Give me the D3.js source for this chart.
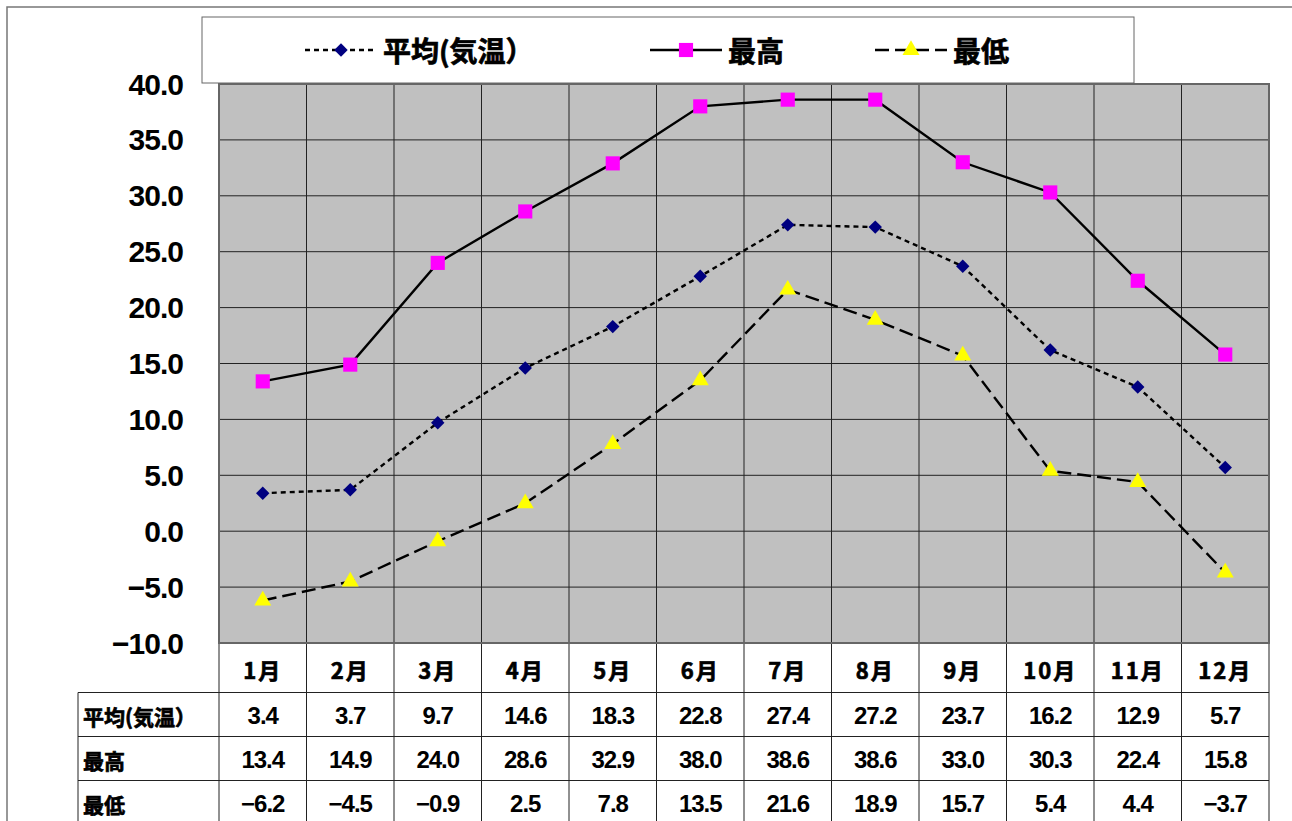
<!DOCTYPE html>
<html>
<head>
<meta charset="utf-8">
<script src="https://cdn.jsdelivr.net/npm/d3@7"></script>
<style>
  body { margin: 0; background: #fff; }
  svg text { font-weight: bold; fill: #000; }
  svg text.cjk { stroke: #000; stroke-width: 0.7px; }
</style>
</head>
<body>
<div id="chart"></div>
<script>
// data
var months = ["1月", "2月", "3月", "4月", "5月", "6月", "7月", "8月", "9月", "10月", "11月", "12月"];
var seriesNames = ["平均(気温）", "最高", "最低"];
var avgTemp = [3.4, 3.7, 9.7, 14.6, 18.3, 22.8, 27.4, 27.2, 23.7, 16.2, 12.9, 5.7];
var maxTemp = [13.4, 14.9, 24.0, 28.6, 32.9, 38.0, 38.6, 38.6, 33.0, 30.3, 22.4, 15.8];
var minTemp = [-6.2, -4.5, -0.9, 2.5, 7.8, 13.5, 21.6, 18.9, 15.7, 5.4, 4.4, -3.7];
var yTicks = [40, 35, 30, 25, 20, 15, 10, 5, 0, -5, -10];

var svgWidth = 1292;
var svgHeight = 821;

var plot = { left: 219, top: 84, right: 1269, bottom: 643 };
var rowTop = 643, headH = 49.5, rowH = 44;
var labelLeft = 78;

var svg = d3.select("#chart")
  .append("svg")
  .attr("width", svgWidth)
  .attr("height", svgHeight);

// outer chart frame (only top/left visible)
svg.append("path")
  .attr("d", "M7,821 L7,7 L1292,7")
  .attr("fill", "none")
  .attr("stroke", "#777")
  .attr("stroke-width", 1.5);

var xScale = d3.scaleBand()
  .domain(months)
  .range([plot.left, plot.right]);

var yScale = d3.scaleLinear()
  .domain([-10, 40])
  .range([plot.bottom, plot.top]);

// plot background
svg.append("rect")
  .attr("x", plot.left)
  .attr("y", plot.top)
  .attr("width", plot.right - plot.left)
  .attr("height", plot.bottom - plot.top)
  .attr("fill", "#c0c0c0");

// horizontal grid
svg.append("g")
  .selectAll("line")
  .data(yTicks)
  .enter()
  .append("line")
  .attr("x1", plot.left)
  .attr("x2", plot.right)
  .attr("y1", d => yScale(d))
  .attr("y2", d => yScale(d))
  .attr("stroke", "#222")
  .attr("stroke-width", 1);

// vertical lines: through plot and table
var tableBottom = rowTop + headH + rowH * 3;
var colEdges = months.map(m => xScale(m)).concat([plot.right]);
svg.append("g")
  .selectAll("line")
  .data(colEdges)
  .enter()
  .append("line")
  .attr("x1", d => d)
  .attr("x2", d => d)
  .attr("y1", plot.top)
  .attr("y2", tableBottom)
  .attr("stroke", "#222")
  .attr("stroke-width", 1);

// plot border
svg.append("rect")
  .attr("x", plot.left)
  .attr("y", plot.top)
  .attr("width", plot.right - plot.left)
  .attr("height", plot.bottom - plot.top)
  .attr("fill", "none")
  .attr("stroke", "#666")
  .attr("stroke-width", 2);

// y axis labels
var fmt = d3.format(".1f");
svg.append("g")
  .selectAll("text")
  .data(yTicks)
  .enter()
  .append("text")
  .attr("x", 183)
  .attr("y", d => yScale(d))
  .attr("text-anchor", "end")
  .attr("dominant-baseline", "central")
  .attr("font-family", "Liberation Sans, Arial, sans-serif")
  .attr("font-size", "30px")
  .attr("letter-spacing", "-1px")
  .text(d => fmt(d));

// series
var series = [
  { name: seriesNames[0], values: avgTemp, dash: "5,4", marker: "diamond", color: "#000080" },
  { name: seriesNames[1], values: maxTemp, dash: null, marker: "square", color: "#ff00ff" },
  { name: seriesNames[2], values: minTemp, dash: "14,6", marker: "triangle", color: "#ffff00" }
];

var symbolMap = {
  diamond: d3.symbol().type(d3.symbolDiamond2).size(115),
  square: d3.symbol().type(d3.symbolSquare).size(200),
  triangle: d3.symbol().type(d3.symbolTriangle).size(125)
};

var cx = m => xScale(m) + xScale.bandwidth() / 2;

var line = d3.line()
  .x((d, i) => cx(months[i]))
  .y(d => yScale(d));

series.forEach(function(s) {
  svg.append("path")
    .datum(s.values)
    .attr("d", line)
    .attr("fill", "none")
    .attr("stroke", "#000")
    .attr("stroke-width", 2.4)
    .attr("stroke-dasharray", s.dash);

  svg.append("g")
    .selectAll("path")
    .data(s.values)
    .enter()
    .append("path")
    .attr("d", symbolMap[s.marker])
    .attr("transform", (d, i) => `translate(${cx(months[i])},${yScale(d)})`)
    .attr("fill", s.color);
});

// legend
var legend = svg.append("g");
legend.append("rect")
  .attr("x", 202)
  .attr("y", 17)
  .attr("width", 932)
  .attr("height", 66)
  .attr("fill", "#fff")
  .attr("stroke", "#666")
  .attr("stroke-width", 1);

var legendX = [305, 650, 875];
series.forEach(function(s, i) {
  var lx = legendX[i], ly = 50;
  legend.append("line")
    .attr("x1", lx)
    .attr("x2", lx + 72)
    .attr("y1", ly)
    .attr("y2", ly)
    .attr("stroke", "#000")
    .attr("stroke-width", 2.4)
    .attr("stroke-dasharray", s.dash);
  legend.append("path")
    .attr("d", symbolMap[s.marker])
    .attr("transform", `translate(${lx + 36},${ly})`)
    .attr("fill", s.color);
  legend.append("text")
    .attr("class", "cjk")
    .attr("x", lx + 78)
    .attr("y", ly)
    .attr("dominant-baseline", "central")
    .attr("font-family", "Noto Sans CJK JP, sans-serif")
    .attr("font-size", "28px")
    .text(s.name);
});

// data table
var table = svg.append("g");
var rowLines = [rowTop + headH, rowTop + headH + rowH, rowTop + headH + rowH * 2];
table.selectAll("line.row")
  .data(rowLines)
  .enter()
  .append("line")
  .attr("x1", labelLeft)
  .attr("x2", plot.right)
  .attr("y1", d => d)
  .attr("y2", d => d)
  .attr("stroke", "#222")
  .attr("stroke-width", 1);
table.append("line")
  .attr("x1", labelLeft)
  .attr("x2", labelLeft)
  .attr("y1", rowTop + headH)
  .attr("y2", tableBottom)
  .attr("stroke", "#222")
  .attr("stroke-width", 1);

// month header
table.selectAll("text.month")
  .data(months)
  .enter()
  .append("text")
  .attr("class", "cjk")
  .attr("x", d => cx(d))
  .attr("y", rowTop + headH / 2 + 1)
  .attr("text-anchor", "middle")
  .attr("dominant-baseline", "central")
  .attr("font-family", "Noto Sans CJK JP, sans-serif")
  .attr("font-size", "22px")
  .attr("letter-spacing", "2px")
  .text(d => d);

series.forEach(function(s, r) {
  var yy = rowTop + headH + rowH * r + rowH / 2 + 1;
  table.append("text")
    .attr("class", "cjk")
    .attr("x", labelLeft + 5)
    .attr("y", yy)
    .attr("dominant-baseline", "central")
    .attr("font-family", "Noto Sans CJK JP, sans-serif")
    .attr("font-size", "21px")
    .text(s.name);
  table.append("g")
    .selectAll("text")
    .data(s.values)
    .enter()
    .append("text")
    .attr("x", (d, i) => cx(months[i]))
    .attr("y", yy)
    .attr("text-anchor", "middle")
    .attr("dominant-baseline", "central")
    .attr("font-family", "Liberation Sans, Arial, sans-serif")
    .attr("font-size", "24px")
    .attr("letter-spacing", "-1px")
    .text(d => fmt(d));
});
</script>
</body>
</html>
